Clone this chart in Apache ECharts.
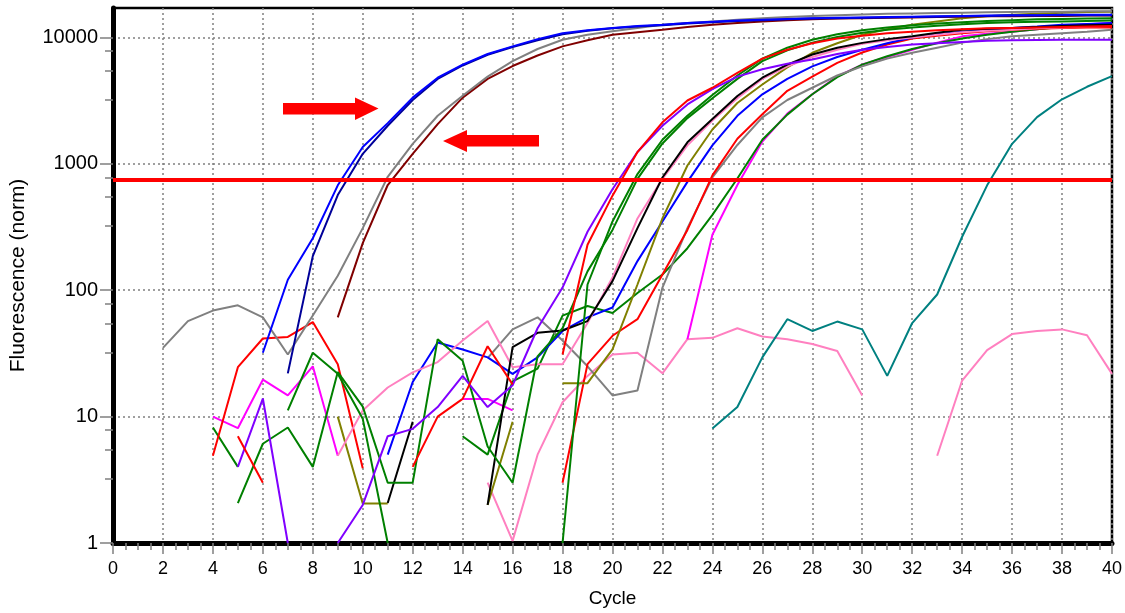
<!DOCTYPE html>
<html>
<head>
<meta charset="utf-8">
<script src="https://cdn.jsdelivr.net/npm/echarts@6/dist/echarts.min.js"></script>
<style>
  html, body { margin: 0; padding: 0; background: #fff; }
  #chart { width: 1125px; height: 613px; }
</style>
</head>
<body>
<div id="chart"></div>
<script>
const n = null;
// cycle numbers 1..40
const cycles = [1,2,3,4,5,6,7,8,9,10,11,12,13,14,15,16,17,18,19,20,21,22,23,24,25,26,27,28,29,30,31,32,33,34,35,36,37,38,39,40];

// early amplifiers (arrows)
const blueEarly   = [n,n,n,n,n,32,121,258,676,1360,2100,3340,4800,6100,7400,8500,9700,10800,11400,11900,12300,12600,13000,13300,13600,13800,14000,14200,14300,14400,14500,14600,14700,14800,14900,15000,15000,15100,15100,15100];
const navyEarly   = [n,n,n,n,n,n,22,186,566,1200,2000,3200,4700,6000,7300,8400,9500,10600,11300,11800,12200,12500,12900,13200,13500,13700,13900,14100,14200,14300,14400,14500,14600,14700,14800,14900,14900,15000,15000,15000];
const grayEarly   = [n,35,57,69,76,61,31,63,130,310,790,1440,2400,3460,4900,6500,8100,9600,10500,11200,11900,12600,13000,13400,13800,14200,14500,14800,15000,15200,15400,15500,15600,15700,15800,15900,16000,16000,16100,16100];
const maroonEarly = [n,n,n,n,n,n,n,n,61,236,680,1200,2060,3340,4700,5940,7200,8500,9500,10500,11000,11500,12100,12600,13000,13400,13700,13900,14100,14200,14300,14400,14500,14600,14700,14700,14800,14800,14900,14900];

// late amplifiers
const purple   = [n,n,n,n,4.0,13.9,1.0,n,1.0,2.0,7.0,8.0,11.9,21,11.9,17.7,50,105,290,630,1240,2000,2950,3900,4900,5600,6200,6700,7400,8000,8400,8800,9000,9200,9400,9500,9550,9600,9600,9600];
const redA     = [n,n,n,n,7.0,3.0,n,n,n,n,n,4.0,10,13.8,36,18,n,31,229,560,1240,2130,3170,4000,5250,6800,8000,9000,9800,10300,10800,11100,11400,11600,11800,11900,12000,12100,12200,12300];
const greenA   = [n,n,n,n,n,n,11.2,32,21.8,9.6,1.0,n,n,n,n,n,n,1.0,111,350,830,1550,2400,3500,5000,6800,8300,9600,10600,11400,12000,12500,12900,13200,13500,13700,13900,14000,14100,14200];
const greenB   = [n,n,n,n,2.07,6.1,8.2,4.0,22.5,12,3.0,3.0,41,27.7,5.8,3.0,30,50,141,300,760,1450,2300,3300,4700,6500,7900,9100,10100,10900,11500,12000,12400,12700,13000,13200,13300,13400,13500,13600];
const pinkA    = [n,n,n,n,n,n,n,n,4.9,11.2,17,22.4,27,40,57,24.6,26,26,55,126,370,760,1400,2200,3300,4700,5900,7000,8000,8900,9500,10000,10500,11000,11300,11500,11800,12000,12200,12300];
const black    = [n,n,n,n,n,n,n,n,n,n,2.07,9.1,n,n,2.0,35.5,46,48,57,118,310,780,1480,2260,3440,4800,6100,7330,8300,9060,9700,10200,10900,11500,11700,11900,12100,12300,12500,12600];
const olive    = [n,n,n,n,n,n,n,n,10,2.05,2.05,n,n,n,2.0,9.1,n,18.4,18.4,34,111,370,970,1870,3030,4240,5800,7560,9000,10500,11600,12600,13400,14200,14700,15100,15400,15700,15900,16000];
const blueLate = [n,n,n,n,n,n,n,n,n,n,5.0,18.8,38.6,34,29.4,21.8,29.4,47.6,61,73,170,350,720,1400,2400,3550,4700,5900,7000,8000,9000,10000,10600,11100,11500,11900,12200,12600,12800,13000];
const redB     = [n,n,n,4.9,24.6,41.5,42.7,56,26,3.9,n,n,n,n,n,n,n,3.0,26,43.6,59,133,300,810,1580,2470,3780,4900,6300,7600,8800,9800,10300,10800,11200,11500,11700,11900,12000,12000];
const grayLate = [n,n,n,n,n,n,n,n,n,n,n,n,n,n,29,49,61,40,25,14.7,16.1,105,310,780,1410,2330,3200,4000,5000,5900,6800,7560,8300,9100,9700,10200,10500,10800,11100,11500];
const greenC   = [n,n,n,8.2,4.0,n,n,n,n,n,n,n,n,7.0,5.0,19,24,63,75,66,95,133,215,395,765,1550,2450,3550,4850,6100,7100,8100,9000,9800,10500,11100,11600,12100,12400,12600];
const magenta  = [n,n,n,10,8.1,19.6,14.7,25,4.9,n,n,n,n,13.8,13.8,11.2,n,n,n,n,n,n,41,275,680,1500,2500,3550,4920,6100,7000,8000,9100,10200,10700,11100,11600,12300,12700,13000];
const teal     = [n,n,n,n,n,n,n,n,n,n,n,n,n,n,n,n,n,n,n,n,n,n,n,8.05,11.9,29.4,59,47.6,56.5,49,21,55,92.5,265,676,1440,2340,3240,4070,4940];

// no amplification
const pinkFlat = [n,n,n,n,n,n,n,n,n,n,n,n,n,n,3.0,1.04,5,13,21,31,32,22,41,42,50,43,41,37.5,33,14.7,n,n,4.9,19.3,33.6,45,47.6,49,44,21.8];

const threshold = 750;
const yLabels = [1, 10, 100, 1000, 10000];
const yMinorTicks = [3.23, 5.47, 7.83, 32.3, 54.7, 78.3, 323, 547, 783, 3230, 5470, 7830];

const curves = [
  ['pinkFlat', '#ff80c0', pinkFlat],
  ['teal', '#008080', teal],
  ['magenta', '#ff00ff', magenta],
  ['greenC', '#008000', greenC],
  ['grayLate', '#808080', grayLate],
  ['redB', '#ff0000', redB],
  ['blueLate', '#0000ff', blueLate],
  ['olive', '#808000', olive],
  ['pinkA', '#ff80c0', pinkA],
  ['black', '#000000', black],
  ['greenB', '#008000', greenB],
  ['greenA', '#008000', greenA],
  ['purple', '#8000ff', purple],
  ['redA', '#ff0000', redA],
  ['maroonEarly', '#800000', maroonEarly],
  ['grayEarly', '#808080', grayEarly],
  ['navyEarly', '#000099', navyEarly],
  ['blueEarly', '#0000ff', blueEarly]
];

const font = 'Liberation Sans, Arial, sans-serif';
const chart = echarts.init(document.getElementById('chart'));

const series = curves.map(c => ({
  name: c[0],
  type: 'line',
  data: c[2].map((v, i) => [cycles[i], v === null ? '-' : v]),
  showSymbol: false,
  connectNulls: false,
  lineStyle: { color: c[1], width: 2 },
  itemStyle: { color: c[1] },
  silent: true
}));

// threshold line
series.push({
  type: 'line',
  data: [],
  z: 10,
  markLine: {
    silent: true,
    symbol: 'none',
    label: { show: false },
    lineStyle: { color: '#ff0000', width: 4, type: 'solid' },
    data: [{ yAxis: threshold }]
  }
});

const option = {
  animation: false,
  backgroundColor: '#fff',
  grid: { left: 113, right: 10, top: 8, bottom: 66, show: true, borderColor: '#000', borderWidth: 2.5 },
  xAxis: {
    type: 'value',
    min: 0,
    max: 40,
    interval: 2,
    name: 'Cycle',
    nameLocation: 'middle',
    nameGap: 46,
    nameTextStyle: { fontSize: 19, color: '#000', fontFamily: font },
    axisLine: { lineStyle: { color: '#000', width: 5 } },
    axisTick: { length: 11, lineStyle: { color: '#808080', width: 1.5 } },
    minorTick: { show: true, splitNumber: 4, length: 7, lineStyle: { color: '#808080', width: 1.5 } },
    axisLabel: { fontSize: 18, color: '#000', margin: 17, fontFamily: font },
    splitLine: { show: true, lineStyle: { color: '#808080', type: [2, 3], width: 1.5 } }
  },
  yAxis: [{
    type: 'log',
    logBase: 10,
    min: 1,
    max: 17100,
    position: 'left',
    name: 'Fluorescence (norm)',
    nameLocation: 'middle',
    nameGap: 84,
    nameTextStyle: { fontSize: 21, color: '#000', fontFamily: font },
    axisLine: { show: true, lineStyle: { color: '#000', width: 5 } },
    axisTick: { show: true, customValues: yLabels, length: 13, lineStyle: { color: '#808080', width: 1.5 } },
    axisLabel: {
      customValues: yLabels, fontSize: 20, color: '#000', margin: 15, fontFamily: font,
      formatter: v => String(Math.round(v))
    },
    splitLine: { show: true, lineStyle: { color: '#808080', type: [2, 3], width: 1.5 } }
  }, {
    type: 'log',
    logBase: 10,
    min: 1,
    max: 17100,
    position: 'left',
    axisLine: { show: true, lineStyle: { color: '#000', width: 0, opacity: 0 } },
    axisLabel: { show: false },
    splitLine: { show: false },
    axisTick: { show: true, customValues: yMinorTicks, length: 8, lineStyle: { color: '#808080', width: 1.5 } }
  }],
  graphic: [
    {
      type: 'polygon', z: 100,
      shape: { points: [[283, 103], [355, 103], [355, 97.5], [378.5, 108.5], [355, 120], [355, 114.5], [283, 114.5]] },
      style: { fill: '#ff0000' }
    },
    {
      type: 'polygon', z: 100,
      shape: { points: [[539, 135], [467, 135], [467, 130], [443, 141], [467, 152], [467, 146.5], [539, 146.5]] },
      style: { fill: '#ff0000' }
    }
  ],
  series: series
};

chart.setOption(option);
</script>
</body>
</html>
